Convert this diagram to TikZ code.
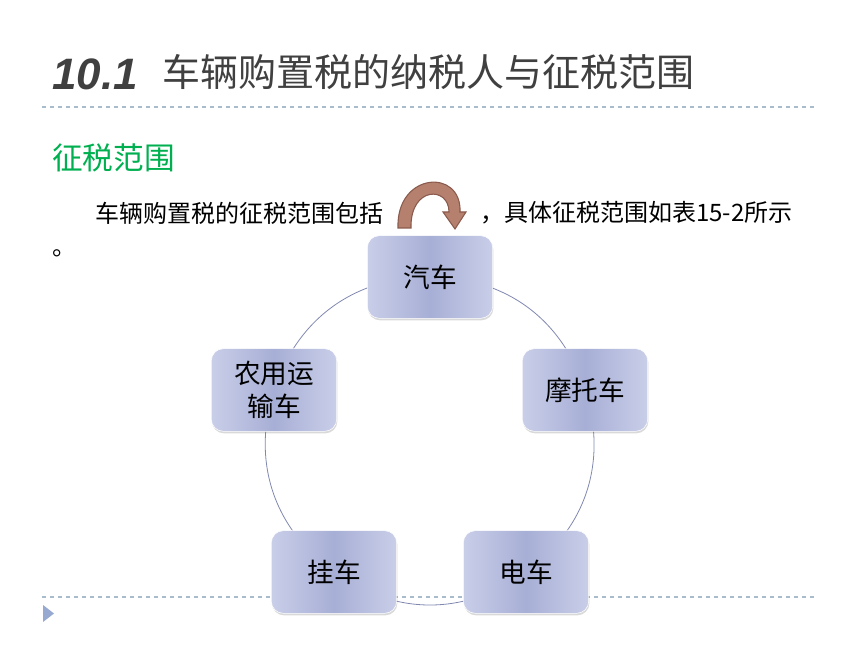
\documentclass[tikz,border=0pt]{standalone}
\usepackage{fontspec}
\newfontfamily\cjk{Noto Sans CJK SC}
\newfontfamily\numfont{Liberation Sans}
\usetikzlibrary{shadows,backgrounds}
\definecolor{titlegray}{HTML}{404040}
\definecolor{headgreen}{HTML}{00B050}
\definecolor{rulecol}{HTML}{A8BCCC}
\definecolor{boxlight}{HTML}{C9CEE8}
\definecolor{boxdark}{HTML}{A7AFD6}
\definecolor{ringcol}{HTML}{8088B0}
\definecolor{arrowfill}{HTML}{B5806E}
\definecolor{arrowline}{HTML}{8A5A4C}
\begin{document}
\begin{tikzpicture}[x=0.75pt,y=-0.75pt,
  box/.style={rounded corners=9pt,minimum width=94pt,minimum height=62pt,
    left color=boxlight,right color=boxlight,middle color=boxdark,
    draw=white,thin,drop shadow={shadow xshift=0.5pt,shadow yshift=-1.5pt,opacity=0.3},
    font=\cjk\fontsize{20pt}{25pt}\selectfont,align=center,text=black},
  ring/.style={draw=ringcol,line width=0.6pt},
  rule/.style={draw=rulecol,line width=0.8pt,dash pattern=on 3pt off 3pt}]
\useasboundingbox (0,0) rectangle (860,645);
% title and rules
\node[anchor=west,text=titlegray,inner sep=0pt,font=\numfont\bfseries\itshape\fontsize{33pt}{38pt}\selectfont] (titlenum) at (52,74) {10.1};
\node[anchor=west,text=titlegray,inner sep=0pt,font=\cjk\fontsize{28.5pt}{34pt}\selectfont] (title) at (162,72) {车辆购置税的纳税人与征税范围};
\draw[rule] (42,107) -- (817,107);
\draw[rule] (42,597) -- (817,597);
\fill[rulecol!90!blue] (43,605) -- (54,613.5) -- (43,622) -- cycle;
% heading and text
\node[anchor=west,text=headgreen,inner sep=0pt,font=\cjk\fontsize{23pt}{28pt}\selectfont] (head) at (52,158) {征税范围};
\node[anchor=west,inner sep=0pt,font=\cjk\fontsize{18pt}{22pt}\selectfont] (line1) at (95,213) {车辆购置税的征税范围包括};
\node[anchor=west,inner sep=0pt,font=\cjk\fontsize{18pt}{22pt}\selectfont] (line2) at (480,213) {，具体征税范围如表15-2所示};
\node[anchor=west,inner sep=0pt,font=\cjk\fontsize{18pt}{22pt}\selectfont] (dot) at (52,253) {。};
% curved arrow
\filldraw[fill=arrowfill,draw=arrowline,line width=0.8pt]
  (398,228) .. controls (396,172) and (462,168) .. (460,212) -- (466,212) -- (455,229)
  -- (443,212) -- (449,212) .. controls (449,186) and (410,186) .. (411,228) -- cycle;
% boxes
\node[box] (qiche) at (430,277) {汽车};
\node[box] (motuo) at (585,390) {摩托车};
\node[box] (dianche) at (526,572) {电车};
\node[box] (guache) at (334,572) {挂车};
\node[box] (nongyong) at (274,390) {农用运\\输车};
\begin{scope}[on background layer]
\draw[ring] (qiche.center) to[bend left=36] (motuo.center);
\draw[ring] (motuo.center) to[bend left=36] (dianche.center);
\draw[ring] (dianche.center) to[bend left=36] (guache.center);
\draw[ring] (guache.center) to[bend left=36] (nongyong.center);
\draw[ring] (nongyong.center) to[bend left=36] (qiche.center);
\end{scope}
\end{tikzpicture}
\end{document}
